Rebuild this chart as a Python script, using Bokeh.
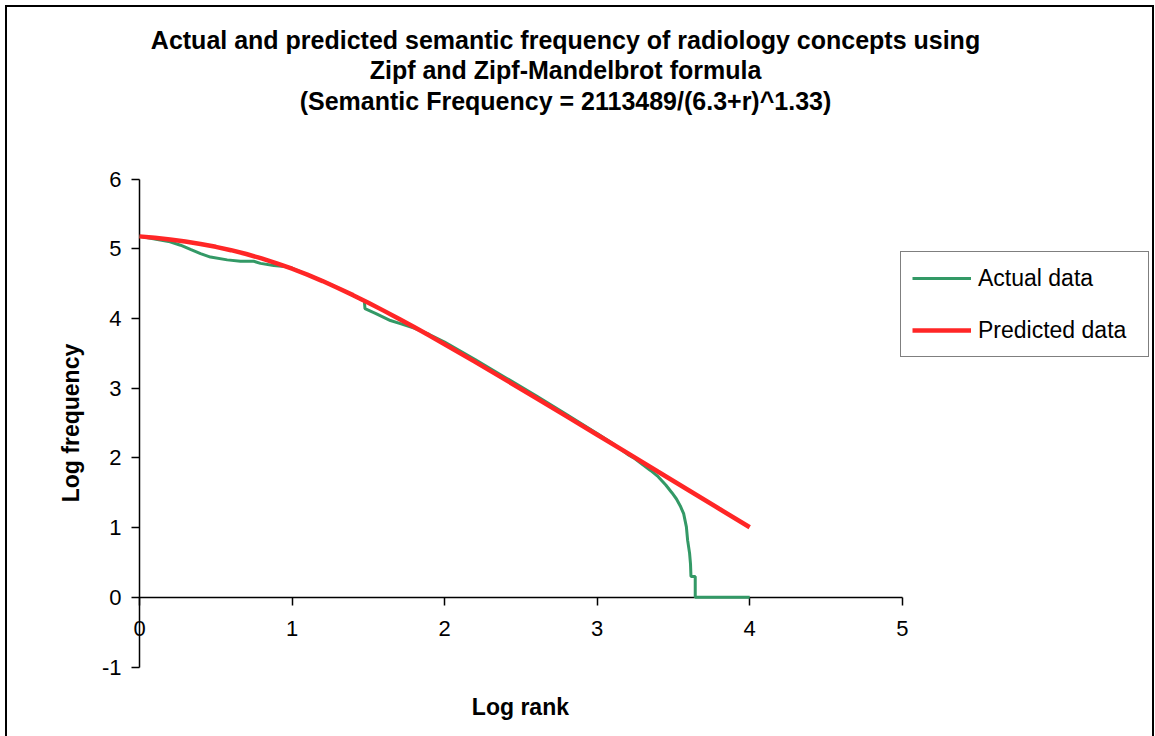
import math
from bokeh.plotting import figure
from bokeh.models import Range1d, FixedTicker, Legend, LegendItem, Label
from bokeh.embed import file_html
from bokeh.resources import INLINE

# ---- data ----
actual_x = [0.0, 0.1, 0.2, 0.269, 0.334, 0.40, 0.465, 0.575, 0.662, 0.749, 0.793, 0.88, 0.968,
            1.0, 1.1, 1.2, 1.3, 1.4, 1.474, 1.478, 1.55, 1.645, 1.71, 1.8, 1.9, 2.0, 2.2,
            2.4, 2.6, 2.8, 3.0, 3.1, 3.2, 3.24, 3.3, 3.35, 3.4, 3.45, 3.49, 3.52, 3.545,
            3.567, 3.585, 3.593, 3.606, 3.612, 3.615, 3.643, 3.643, 4.0]
actual_y = [5.18, 5.14, 5.10, 5.05, 4.99, 4.93, 4.88, 4.84, 4.82, 4.82, 4.79, 4.76, 4.74,
            4.72, 4.63, 4.54, 4.44, 4.33, 4.25, 4.14, 4.07, 3.97, 3.925, 3.86, 3.77, 3.66, 3.41,
            3.15, 2.89, 2.62, 2.35, 2.21, 2.05, 2.0, 1.90, 1.82, 1.73, 1.61, 1.50, 1.41, 1.31,
            1.20, 1.01, 0.82, 0.63, 0.48, 0.30, 0.30, 0.0, 0.0]

pred_x = [0.0, 0.1, 0.2, 0.3, 0.4, 0.5, 0.6, 0.7, 0.8, 0.9, 1.0, 1.1, 1.2, 1.3, 1.4, 1.5,
          1.6, 1.7, 1.8, 1.9, 2.0, 2.2, 2.4, 2.6, 2.8, 3.0, 3.2, 3.4, 3.6, 3.8, 4.0]
pred_y = [5.177, 5.157, 5.132, 5.103, 5.068, 5.027, 4.979, 4.924, 4.861, 4.791, 4.713, 4.628,
          4.536, 4.437, 4.334, 4.225, 4.112, 3.996, 3.876, 3.754, 3.630, 3.377, 3.119, 2.858,
          2.595, 2.331, 2.067, 1.801, 1.536, 1.270, 1.005]

x_ticks = [0, 1, 2, 3, 4, 5]
y_ticks = [-1, 0, 1, 2, 3, 4, 5, 6]

title_lines = ["Actual and predicted semantic frequency of radiology concepts using",
               "Zipf and Zipf-Mandelbrot formula",
               "(Semantic Frequency = 2113489/(6.3+r)^1.33)"]
x_label = "Log rank"
y_label = "Log frequency"
series_names = ["Actual data", "Predicted data"]

FONT = "Liberation Sans"

# the plot frame fills the whole canvas; the axes cross at 0 with fixed bounds
p = figure(width=1145, height=731, output_backend="svg", toolbar_location=None,
           x_range=Range1d(-0.8653, 6.6405), y_range=Range1d(-2.0254, 8.460),
           min_border_left=0, min_border_right=0, min_border_top=0, min_border_bottom=0)
p.outline_line_color = None
p.xgrid.visible = False
p.ygrid.visible = False
p.background_fill_color = "white"
p.border_fill_color = "white"
p.styles = {"outline": "2px solid black", "margin-left": "7px", "margin-top": "7px"}

for ax, ticks, bnds, standoff in ((p.xaxis[0], x_ticks, (0, 5), 16),
                                  (p.yaxis[0], y_ticks, (-1, 6), 10)):
    ax.fixed_location = 0
    ax.bounds = bnds
    ax.ticker = FixedTicker(ticks=ticks)
    ax.major_label_overrides = {t: str(t) for t in ticks}
    ax.minor_tick_line_color = None
    ax.major_tick_in = 0
    ax.major_tick_out = 8
    ax.major_label_standoff = standoff
    ax.axis_line_width = 1.5
    ax.major_tick_line_width = 1.5
    ax.axis_line_color = "black"
    ax.major_tick_line_color = "black"
    ax.major_label_text_font = FONT
    ax.major_label_text_font_size = "22px"
    ax.major_label_text_color = "black"

# titles
for txt, ty in zip(title_lines, [7.987, 7.557, 7.126]):
    p.add_layout(Label(x=2.7925, y=ty, text=txt, text_align="center", text_baseline="middle",
                       text_font=FONT, text_font_size="25px", text_font_style="bold",
                       text_color="black"))
p.add_layout(Label(x=2.497, y=-1.567, text=x_label, text_align="center", text_baseline="middle",
                   text_font=FONT, text_font_size="23px", text_font_style="bold",
                   text_color="black"))
p.add_layout(Label(x=-0.446, y=2.5, text=y_label, angle=math.pi / 2, text_align="center",
                   text_baseline="middle", text_font=FONT, text_font_size="23px",
                   text_font_style="bold", text_color="black"))

r_act = p.line(actual_x, actual_y, line_color="#339966", line_width=3, level="overlay")
r_pred = p.line(pred_x, pred_y, line_color="#FF2626", line_width=4.5, level="overlay")

legend = Legend(items=[LegendItem(label=series_names[0], renderers=[r_act]),
                       LegendItem(label=series_names[1], renderers=[r_pred])],
                location=(893, 381), orientation="vertical",
                glyph_width=59, glyph_height=30, label_height=30, label_width=159,
                label_standoff=7, spacing=22, padding=11, margin=0,
                label_text_font=FONT, label_text_font_size="23px", label_text_color="black",
                border_line_color="black", border_line_width=1.5,
                background_fill_color="white", background_fill_alpha=1.0)
p.add_layout(legend)

open("out.html", "w").write(file_html(p, INLINE))
